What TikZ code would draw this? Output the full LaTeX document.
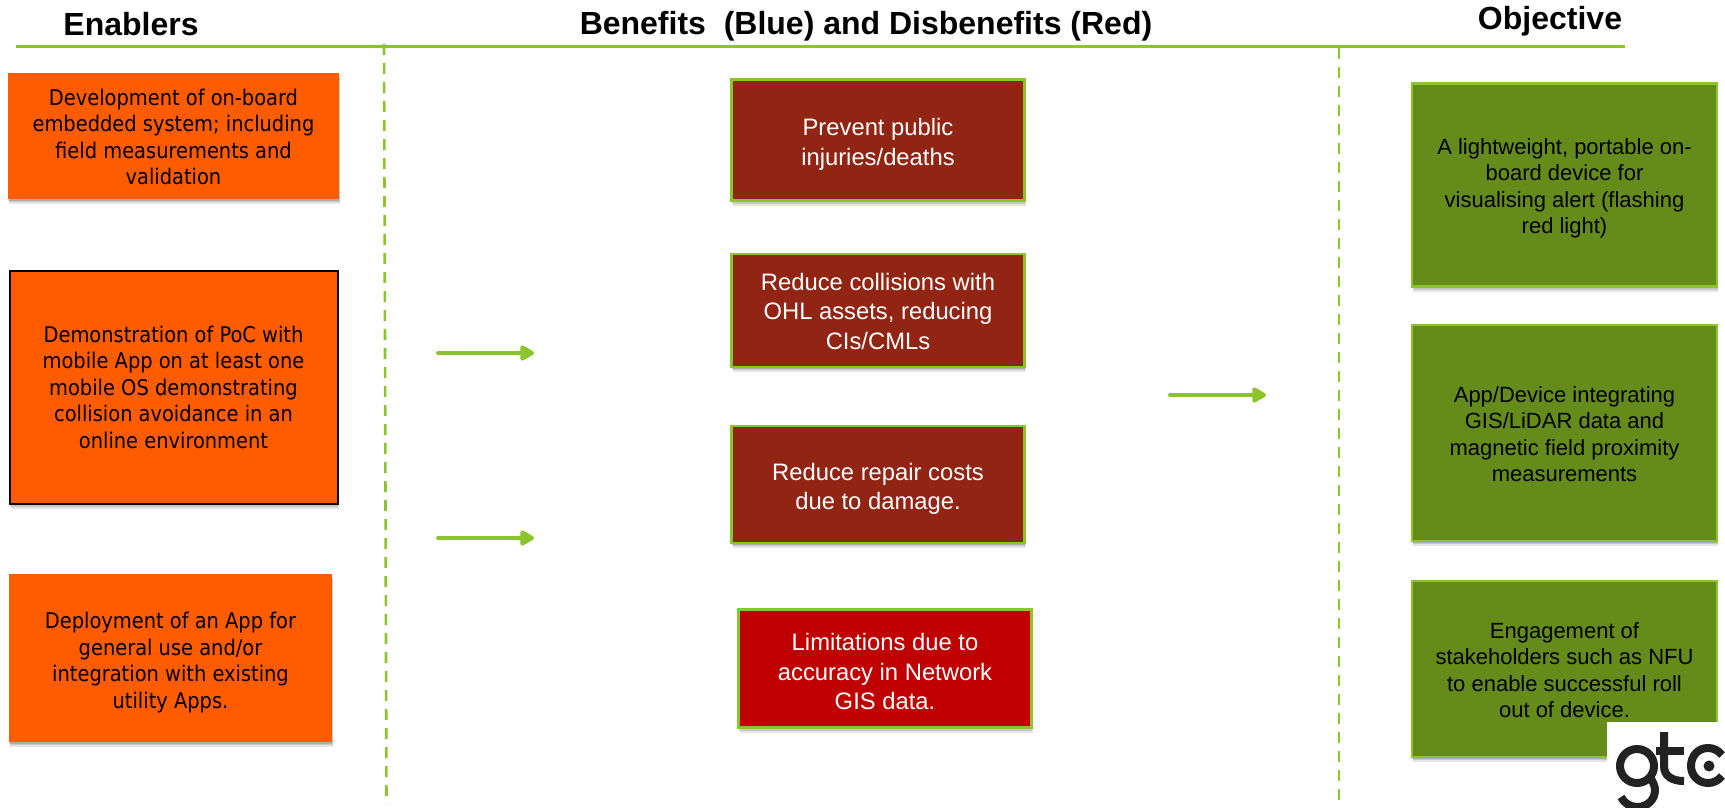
\documentclass[tikz,border=0pt]{standalone}
\usepackage{fontspec}
\setmainfont{Liberation Sans}
\newfontfamily\tahomalike{DejaVu Sans Condensed}
\usetikzlibrary{shadows,arrows.meta}
\newcommand{\lowerby}[1]{\rule{0pt}{#1pt}}
\definecolor{linegreen}{HTML}{8CC52B}
\definecolor{boxorange}{HTML}{FF5C00}
\definecolor{boxbrown}{HTML}{912412}
\definecolor{boxred}{HTML}{C00000}
\definecolor{boxgreen}{HTML}{658B1A}
\definecolor{logoink}{HTML}{222222}
\tikzset{
  softshadow/.style={
    drop shadow={shadow xshift=0pt,shadow yshift=-1.5pt,opacity=.13,fill=black},
    drop shadow={shadow xshift=.5pt,shadow yshift=-3pt,opacity=.13,fill=black},
    drop shadow={shadow xshift=1pt,shadow yshift=-5pt,opacity=.10,fill=black}},
  basebox/.style={inner sep=0pt,outer sep=0pt,align=center,softshadow},
  enabler/.style={basebox,fill=boxorange,text=black,font=\tahomalike\fontsize{21.6}{26.5}\selectfont},
  benefit/.style={basebox,draw=linegreen,line width=2.8pt,fill=boxbrown,text=white,font=\fontsize{23.8}{29.5}\selectfont},
  disbenefit/.style={benefit,fill=boxred},
  objective/.style={basebox,draw=linegreen,line width=2.8pt,fill=boxgreen,text=black,font=\fontsize{22}{26.5}\selectfont},
  headtext/.style={inner sep=0pt,text=black,font=\bfseries\fontsize{32}{36}\selectfont},
  rule/.style={draw=linegreen,line width=2.6pt},
  divider/.style={draw=linegreen,line width=2.6pt,dash pattern=on 11pt off 8pt},
  flow/.style={draw=linegreen,line width=4pt,line cap=round,-{Triangle[length=16pt,width=17pt,round=false]}},
  logostroke/.style={draw=logoink,line width=8pt,fill=none}
}
\begin{document}
\begin{tikzpicture}[x=1pt,y=-1pt]
\useasboundingbox (0,0) rectangle (1725,808);
\fill[white] (0,0) rectangle (1725,808);
\node[headtext] (hEnablers) at (131,24) {Enablers};
\node[headtext] (hBenefits) at (866,26) {Benefits\ \ (Blue) and Disbenefits (Red)};
\node[headtext] (hObjective) at (1550,21) {Objective};
\coordinate (ruleL) at (16,46.5);
\coordinate (ruleR) at (1625,46.5);
\draw[rule] (ruleL) -- (ruleR);
\coordinate (divAtop) at (384,44);
\coordinate (divAbot) at (386.5,804);
\coordinate (divBtop) at (1339,48);
\coordinate (divBbot) at (1339,808);
\draw[divider] (divAtop) -- (divAbot);
\draw[divider] (divBtop) -- (divBbot);

\node[enabler,minimum width=331pt,minimum height=126pt] (e1) at (173.5,136) {\lowerby{18}Development of on-board\\embedded system; including\\field measurements and\\validation};
\node[enabler,draw=black,line width=2pt,minimum width=328pt,minimum height=233pt] (e2) at (173.5,387) {Demonstration of PoC with\\mobile App on at least one\\mobile OS demonstrating\\collision avoidance in an\\online environment};
\node[enabler,minimum width=323pt,minimum height=168pt] (e3) at (170.5,658) {\lowerby{25}Deployment of an App for\\general use and/or\\integration with existing\\utility Apps.};

\node[benefit,minimum width=293pt,minimum height=121pt] (b1) at (878,140) {\lowerby{26}Prevent public\\injuries/deaths};
\node[benefit,minimum width=293pt,minimum height=113pt] (b2) at (878,310.5) {\lowerby{19}Reduce collisions with\\OHL assets, reducing\\CIs/CMLs};
\node[benefit,minimum width=293pt,minimum height=117pt] (b3) at (878,484.5) {\lowerby{26}Reduce repair costs\\due to damage.};
\node[disbenefit,minimum width=293pt,minimum height=118pt] (b4) at (885,668.5) {\lowerby{24}Limitations due to\\accuracy in Network\\GIS data.};

\node[objective,minimum width=305pt,minimum height=203pt] (o1) at (1564.5,185) {\lowerby{23}A lightweight, portable on-\\board device for\\visualising alert (flashing\\red light)};
\node[objective,minimum width=305pt,minimum height=216pt] (o2) at (1564.5,433) {\lowerby{18}App/Device integrating\\GIS/LiDAR data and\\magnetic field proximity\\measurements};
\node[objective,minimum width=305pt,minimum height=176pt] (o3) at (1564.5,669) {\lowerby{18}Engagement of\\stakeholders such as NFU\\to enable successful roll\\out of device.};

\coordinate (a1s) at (438,353); \coordinate (a1e) at (534,353);
\coordinate (a2s) at (438,538); \coordinate (a2e) at (534,538);
\coordinate (a3s) at (1170,395); \coordinate (a3e) at (1266,395);
\draw[flow] (a1s) -- (a1e);
\draw[flow] (a2s) -- (a2e);
\draw[flow] (a3s) -- (a3e);

\fill[white] (1607,722) rectangle (1725,808);
\begin{scope}
\clip (1607,722) rectangle (1725,808);
\draw[logostroke] (1637,766) circle (17);
\draw[logostroke] (1650,777) .. controls (1653,782) and (1655,786) .. (1655,790) .. controls (1655,800) and (1647,807) .. (1637,807) .. controls (1630,807) and (1624,803) .. (1621,797);
\draw[logostroke] (1664,732) -- (1664,766) .. controls (1664,776) and (1672,781) .. (1684,781);
\draw[logostroke] (1656,751) -- (1684,751);
\draw[logostroke] (1722,755) .. controls (1718,750) and (1713,748) .. (1708,748) .. controls (1698,748) and (1691,756) .. (1691,766) .. controls (1691,775) and (1698,783) .. (1708,783) .. controls (1713,783) and (1718,781) .. (1722,776);
\fill[logoink] (1709,766) circle (5.5);
\end{scope}
\end{tikzpicture}
\end{document}
